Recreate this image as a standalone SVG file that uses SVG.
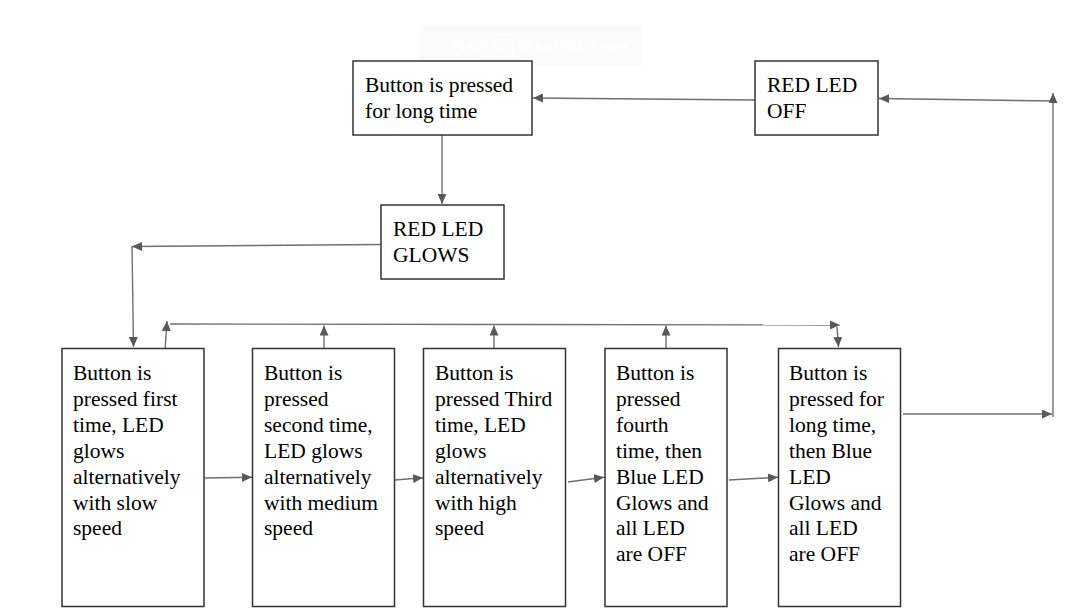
<svg xmlns="http://www.w3.org/2000/svg" width="1077" height="613" viewBox="0 0 1077 613">
<defs>
<style>
.box{fill:#fff;stroke:#333;stroke-width:1.5}
.t{font-family:"Liberation Serif","Times New Roman",serif;font-size:21.5px;fill:#000}
.c{fill:none;stroke:#707070;stroke-width:1.4}
.ov{font-family:"Liberation Sans",Arial,sans-serif;font-size:13px;font-weight:bold;fill:#fff}
</style>
<marker id="ah" markerUnits="userSpaceOnUse" markerWidth="11" markerHeight="9" refX="10" refY="4.5" orient="auto">
<path d="M0,0 L10,4.5 L0,9 z" fill="#595959"/>
</marker>
</defs>
<rect width="1077" height="613" fill="#fff"/>
<g id="overlay">
<rect x="420" y="26" width="223" height="40" fill="#fbfbfb"/>
<rect x="488" y="34" width="25" height="23" fill="none" stroke="#fff" stroke-width="1"/>
<text class="ov" x="452" y="50">Press</text>
<text class="ov" x="491" y="50">Esc</text>
<text class="ov" x="519" y="50">to exit full screen</text>
</g>
<g id="connectors">
<line class="c" x1="755" y1="100" x2="533" y2="98" marker-end="url(#ah)"/>
<line class="c" x1="1053" y1="101" x2="879" y2="98.5" marker-end="url(#ah)"/>
<line class="c" x1="1053" y1="417" x2="1053" y2="93" marker-end="url(#ah)"/>
<line class="c" x1="903" y1="414" x2="1052" y2="414" marker-end="url(#ah)"/>
<line class="c" x1="442" y1="135" x2="442" y2="204" marker-end="url(#ah)"/>
<line class="c" x1="381" y1="244.5" x2="132" y2="246.5" marker-end="url(#ah)"/>
<line class="c" x1="132" y1="246" x2="133.5" y2="347" marker-end="url(#ah)"/>
<line class="c" x1="165" y1="350.5" x2="167" y2="321" marker-end="url(#ah)"/>
<line class="c" x1="170" y1="324" x2="840" y2="325" marker-end="url(#ah)"/>
<line class="c" x1="837" y1="327" x2="838.5" y2="347" marker-end="url(#ah)"/>
<line class="c" x1="324" y1="348" x2="324" y2="325.5" marker-end="url(#ah)"/>
<line class="c" x1="494" y1="348" x2="494" y2="325.5" marker-end="url(#ah)"/>
<line class="c" x1="666" y1="348" x2="666" y2="325.5" marker-end="url(#ah)"/>
<line class="c" x1="204.5" y1="478" x2="252" y2="477.3" marker-end="url(#ah)"/>
<line class="c" x1="395" y1="480" x2="423" y2="477.7" marker-end="url(#ah)"/>
<line class="c" x1="568" y1="482" x2="604" y2="477.3" marker-end="url(#ah)"/>
<line class="c" x1="729" y1="480" x2="778" y2="477.3" marker-end="url(#ah)"/>
</g>
<g id="n-long-press">
<rect class="box" x="353" y="61" width="179" height="74"/>
<text class="t" x="365" y="92">Button is pressed</text>
<text class="t" x="365" y="118">for long time</text>
</g>
<g id="n-red-off">
<rect class="box" x="755" y="61" width="123" height="74"/>
<text class="t" x="767" y="92">RED LED</text>
<text class="t" x="767" y="118">OFF</text>
</g>
<g id="n-red-glows">
<rect class="box" x="381" y="205" width="123" height="74"/>
<text class="t" x="393" y="236">RED LED</text>
<text class="t" x="393" y="262">GLOWS</text>
</g>
<g id="n-first">
<rect class="box" x="62" y="348.5" width="142" height="258"/>
<text class="t" x="73" y="380">Button is</text>
<text class="t" x="73" y="406">pressed first</text>
<text class="t" x="73" y="432">time, LED</text>
<text class="t" x="73" y="457.5">glows</text>
<text class="t" x="73" y="483.5">alternatively</text>
<text class="t" x="73" y="509.5">with slow</text>
<text class="t" x="73" y="535">speed</text>
</g>
<g id="n-second">
<rect class="box" x="252.5" y="348.5" width="142" height="258"/>
<text class="t" x="264" y="380">Button is</text>
<text class="t" x="264" y="406">pressed</text>
<text class="t" x="264" y="432">second time,</text>
<text class="t" x="264" y="457.5">LED glows</text>
<text class="t" x="264" y="483.5">alternatively</text>
<text class="t" x="264" y="509.5">with medium</text>
<text class="t" x="264" y="535">speed</text>
</g>
<g id="n-third">
<rect class="box" x="423.5" y="348.5" width="142" height="258"/>
<text class="t" x="435" y="380">Button is</text>
<text class="t" x="435" y="406">pressed Third</text>
<text class="t" x="435" y="432">time, LED</text>
<text class="t" x="435" y="457.5">glows</text>
<text class="t" x="435" y="483.5">alternatively</text>
<text class="t" x="435" y="509.5">with high</text>
<text class="t" x="435" y="535">speed</text>
</g>
<g id="n-fourth">
<rect class="box" x="605" y="348.5" width="122" height="258"/>
<text class="t" x="616" y="380">Button is</text>
<text class="t" x="616" y="406">pressed</text>
<text class="t" x="616" y="432">fourth</text>
<text class="t" x="616" y="457.5">time, then</text>
<text class="t" x="616" y="483.5">Blue LED</text>
<text class="t" x="616" y="509.5">Glows and</text>
<text class="t" x="616" y="535">all LED</text>
<text class="t" x="616" y="561">are OFF</text>
</g>
<g id="n-long-blue">
<rect class="box" x="778.5" y="348.5" width="122" height="258"/>
<text class="t" x="789" y="380">Button is</text>
<text class="t" x="789" y="406">pressed for</text>
<text class="t" x="789" y="432">long time,</text>
<text class="t" x="789" y="457.5">then Blue</text>
<text class="t" x="789" y="483.5">LED</text>
<text class="t" x="789" y="509.5">Glows and</text>
<text class="t" x="789" y="535">all LED</text>
<text class="t" x="789" y="561">are OFF</text>
</g>
</svg>
